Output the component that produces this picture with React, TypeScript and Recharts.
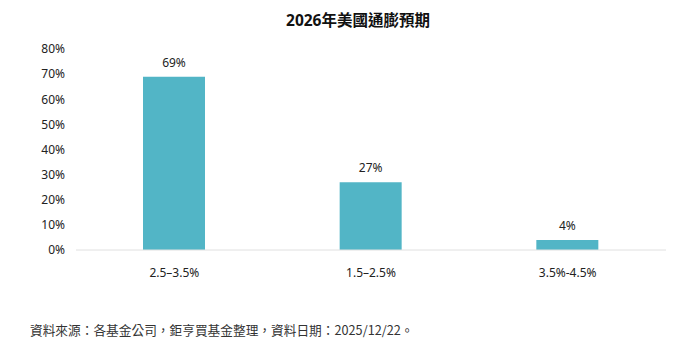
import { Bar, BarChart, LabelList, XAxis, YAxis } from "recharts"

const categories = ['2.5–3.5%', '1.5–2.5%', '3.5%-4.5%']
const shares = [69, 27, 4]
const yTicks = [0, 10, 20, 30, 40, 50, 60, 70, 80]

const FONT = '"Noto Sans", "Noto Sans CJK TC", sans-serif'

const App = () => {
  const data = categories.map((name, i) => ({ name, value: shares[i] }))

  return (
    <div lang='zh-TW' style={{ position: 'absolute', left: 0, top: 0, width: 682, height: 360, background: '#fff', fontFamily: FONT }}>
      <div
        style={{
          position: 'absolute',
          top: 8,
          left: 0,
          width: 716,
          textAlign: 'center',
          fontSize: 15.5,
          fontWeight: 'bold',
          color: '#111'
        }}
      >
        2026年美國通膨預期
      </div>
      <div style={{ position: 'absolute', left: 0, top: 0 }}>
        <BarChart
          width={682}
          height={290}
          data={data}
          margin={{ top: 49, right: 16, left: 16, bottom: 0 }}
        >
          <XAxis
            dataKey='name'
            height={40}
            tickLine={false}
            tickMargin={12}
            axisLine={{ stroke: '#e0e0e0' }}
            tick={{ fill: '#222', fontSize: 12, fontFamily: FONT }}
          />
          <YAxis
            width={60}
            domain={[0, 80]}
            ticks={yTicks}
            interval={0}
            axisLine={false}
            tickLine={false}
            tickMargin={5}
            tickFormatter={(v) => `${v}%`}
            tick={{ fill: '#222', fontSize: 12, fontFamily: FONT }}
          />
          <Bar dataKey='value' fill='#52b5c6' barSize={62} isAnimationActive={false}>
            <LabelList
              dataKey='value'
              position='top'
              offset={10}
              formatter={(v: number) => `${v}%`}
              style={{ fill: '#222', fontSize: 12, fontFamily: FONT }}
            />
          </Bar>
        </BarChart>
      </div>
      <div
        style={{
          position: 'absolute',
          left: 30,
          top: 320,
          fontSize: 12.7,
          color: '#333',
          fontFamily: '"Noto Sans CJK TC", sans-serif'
        }}
      >
        資料來源：各基金公司，鉅亨買基金整理，資料日期：2025/12/22。
      </div>
    </div>
  )
}

export default App
